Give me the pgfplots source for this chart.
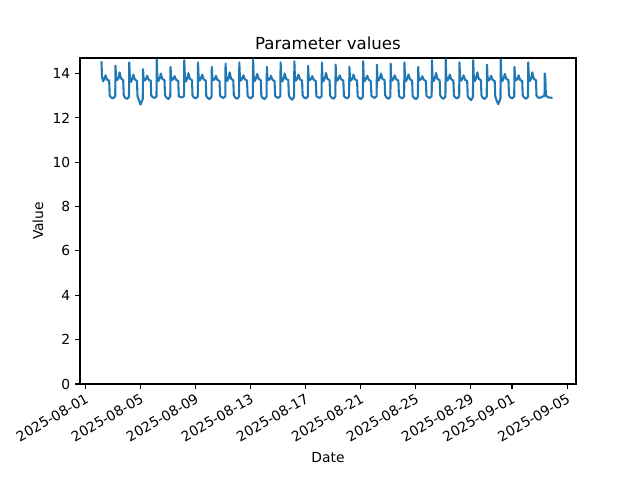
\documentclass[border=0pt]{standalone}
\usepackage{pgfplots}
\pgfplotsset{compat=1.18}
\usepackage{fontspec}
\setmainfont{DejaVu Sans}
\definecolor{mplblue}{HTML}{1F77B4}
\begin{document}
\begin{tikzpicture}
\useasboundingbox (-0.80in,-0.96in) rectangle (5.60in,3.84in);
\begin{axis}[
  at={(0,0)}, anchor=south west,
  scale only axis, width=4.96in, height=3.26in,
  xmin=-0.4, xmax=35.65, ymin=0, ymax=14.7,
  xtick={0,4,8,12,16,20,24,28,31,35},
  xticklabels={2025-08-01,2025-08-05,2025-08-09,2025-08-13,2025-08-17,2025-08-21,2025-08-25,2025-08-29,2025-09-01,2025-09-05},
  ytick={0,2,4,6,8,10,12,14},
  xticklabel style={rotate=30, anchor=north east, inner sep=2pt, font=\fontsize{10}{12}\selectfont},
  yticklabel style={font=\fontsize{10}{12}\selectfont},
  /pgf/number format/assume math mode=true,
  tick align=outside, major tick length=3.5pt,
  tick style={black, line width=0.8pt},
  axis line style={line width=0.8pt},
  xtick pos=bottom, ytick pos=left,
  title={Parameter values},
  every axis title/.style={at={(rel axis cs:0.5,1)}, anchor=center, yshift=0.15in, font=\fontsize{12}{14}\selectfont},
  xlabel={Date}, ylabel={Value},
  every axis x label/.style={at={(rel axis cs:0.5,0)}, anchor=center, yshift=-0.74in, font=\fontsize{10}{12}\selectfont},
  every axis y label/.style={at={(rel axis cs:0,0.5)}, rotate=90, anchor=center, yshift=0.42in, font=\fontsize{10}{12}\selectfont},
]
\addplot[mplblue, line width=1.5pt, line join=round, mark=none] table {
x y
1.16 14.55
1.20 13.85
1.28 13.65
1.38 13.78
1.46 13.92
1.56 13.72
1.72 13.68
1.76 13.00
1.86 12.92
2.00 12.88
2.16 12.98
2.18 14.35
2.22 13.82
2.30 13.70
2.40 13.80
2.48 14.05
2.58 13.78
2.74 13.70
2.78 13.02
2.88 12.90
3.02 12.86
3.16 12.95
3.18 14.50
3.22 13.88
3.30 13.62
3.40 13.75
3.48 13.95
3.58 13.74
3.74 13.66
3.78 12.98
3.88 12.80
4.00 12.60
4.16 12.85
4.18 14.20
4.22 13.80
4.30 13.68
4.40 13.76
4.48 13.90
4.58 13.72
4.74 13.68
4.78 13.00
4.88 12.94
5.02 12.90
5.16 12.96
5.18 14.65
5.22 13.86
5.30 13.66
5.40 13.80
5.48 14.00
5.58 13.76
5.74 13.70
5.78 13.02
5.88 12.92
6.02 12.85
6.16 12.97
6.18 14.30
6.22 13.84
6.30 13.70
6.40 13.78
6.48 13.88
6.58 13.72
6.74 13.66
6.78 12.98
6.88 12.94
7.02 12.92
7.16 12.98
7.18 14.60
7.22 13.88
7.30 13.64
7.40 13.78
7.48 14.02
7.58 13.76
7.74 13.70
7.78 13.00
7.88 12.92
8.02 12.88
8.16 12.96
8.18 14.50
8.22 13.85
8.30 13.68
8.40 13.80
8.48 13.95
8.58 13.74
8.74 13.68
8.78 12.98
8.88 12.90
9.02 12.84
9.16 12.95
9.18 14.30
9.22 13.82
9.30 13.70
9.40 13.76
9.48 13.90
9.58 13.72
9.74 13.66
9.78 13.00
9.88 12.94
10.02 12.90
10.16 12.97
10.18 14.45
10.22 13.86
10.30 13.66
10.40 13.80
10.48 14.05
10.58 13.76
10.74 13.70
10.78 13.02
10.88 12.92
11.02 12.86
11.16 12.96
11.18 14.50
11.22 13.84
11.30 13.68
11.40 13.78
11.48 13.92
11.58 13.74
11.74 13.68
11.78 13.00
11.88 12.92
12.02 12.88
12.16 12.97
12.18 14.65
12.22 13.88
12.30 13.66
12.40 13.80
12.48 13.98
12.58 13.76
12.74 13.70
12.78 12.98
12.88 12.90
13.02 12.85
13.16 12.95
13.18 14.30
13.22 13.82
13.30 13.70
13.40 13.76
13.48 13.90
13.58 13.72
13.74 13.66
13.78 13.00
13.88 12.94
14.02 12.90
14.16 12.98
14.18 14.50
14.22 13.86
14.30 13.64
14.40 13.78
14.48 14.00
14.58 13.76
14.74 13.70
14.78 13.00
14.88 12.90
15.02 12.82
15.16 12.95
15.18 14.55
15.22 13.86
15.30 13.68
15.40 13.80
15.48 13.95
15.58 13.74
15.74 13.68
15.78 13.02
15.88 12.92
16.02 12.88
16.16 12.96
16.18 14.35
16.22 13.82
16.30 13.70
16.40 13.76
16.48 13.88
16.58 13.72
16.74 13.66
16.78 12.98
16.88 12.94
17.02 12.90
17.16 12.97
17.18 14.50
17.22 13.86
17.30 13.66
17.40 13.80
17.48 14.02
17.58 13.76
17.74 13.70
17.78 13.00
17.88 12.92
18.02 12.86
18.16 12.96
18.18 14.40
18.22 13.84
18.30 13.68
18.40 13.78
18.48 13.92
18.58 13.74
18.74 13.68
18.78 13.00
18.88 12.92
19.02 12.88
19.16 12.97
19.18 14.30
19.22 13.82
19.30 13.68
19.40 13.78
19.48 13.95
19.58 13.74
19.74 13.68
19.78 12.98
19.88 12.90
20.02 12.85
20.16 12.95
20.18 14.55
20.22 13.86
20.30 13.66
20.40 13.78
20.48 13.90
20.58 13.72
20.74 13.66
20.78 13.00
20.88 12.94
21.02 12.90
21.16 12.98
21.18 14.40
21.22 13.84
21.30 13.68
21.40 13.80
21.48 14.00
21.58 13.76
21.74 13.70
21.78 13.02
21.88 12.92
22.02 12.86
22.16 12.96
22.18 14.45
22.22 13.84
22.30 13.68
22.40 13.78
22.48 13.92
22.58 13.74
22.74 13.68
22.78 13.00
22.88 12.92
23.02 12.88
23.16 12.97
23.18 14.50
23.22 13.86
23.30 13.66
23.40 13.80
23.48 13.96
23.58 13.74
23.74 13.68
23.78 12.98
23.88 12.90
24.02 12.84
24.16 12.95
24.18 14.30
24.22 13.82
24.30 13.70
24.40 13.76
24.48 13.88
24.58 13.72
24.74 13.66
24.78 13.00
24.88 12.94
25.02 12.90
25.16 12.98
25.18 14.60
25.22 13.88
25.30 13.66
25.40 13.80
25.48 14.02
25.58 13.76
25.74 13.70
25.78 13.02
25.88 12.92
26.02 12.86
26.16 12.96
26.18 14.65
26.22 13.86
26.30 13.68
26.40 13.78
26.48 13.95
26.58 13.74
26.74 13.68
26.78 13.00
26.88 12.92
27.02 12.88
27.16 12.97
27.18 14.50
27.22 13.84
27.30 13.68
27.40 13.78
27.48 13.92
27.58 13.72
27.74 13.66
27.78 12.98
27.88 12.88
28.02 12.80
28.16 12.94
28.18 14.60
28.22 13.88
28.30 13.66
28.40 13.80
28.48 14.05
28.58 13.76
28.74 13.70
28.78 13.00
28.88 12.90
29.02 12.85
29.16 12.96
29.18 14.40
29.22 13.84
29.30 13.68
29.40 13.76
29.48 13.90
29.58 13.72
29.74 13.66
29.78 12.98
29.88 12.78
30.00 12.62
30.16 12.88
30.18 14.65
30.22 13.88
30.30 13.66
30.40 13.80
30.48 13.98
30.58 13.76
30.74 13.70
30.78 13.02
30.88 12.92
31.02 12.88
31.16 12.97
31.18 14.30
31.22 13.82
31.30 13.70
31.40 13.76
31.48 13.92
31.58 13.72
31.74 13.66
31.78 13.00
31.88 12.92
32.02 12.86
32.16 12.96
32.18 14.50
32.22 13.86
32.30 13.66
32.40 13.80
32.48 14.05
32.58 13.76
32.74 13.70
32.78 13.00
32.88 12.92
33.02 12.90
33.20 12.96
33.36 12.98
33.38 14.00
33.42 13.80
33.46 13.02
33.60 12.93
33.94 12.90
};
\end{axis}
\end{tikzpicture}
\end{document}
